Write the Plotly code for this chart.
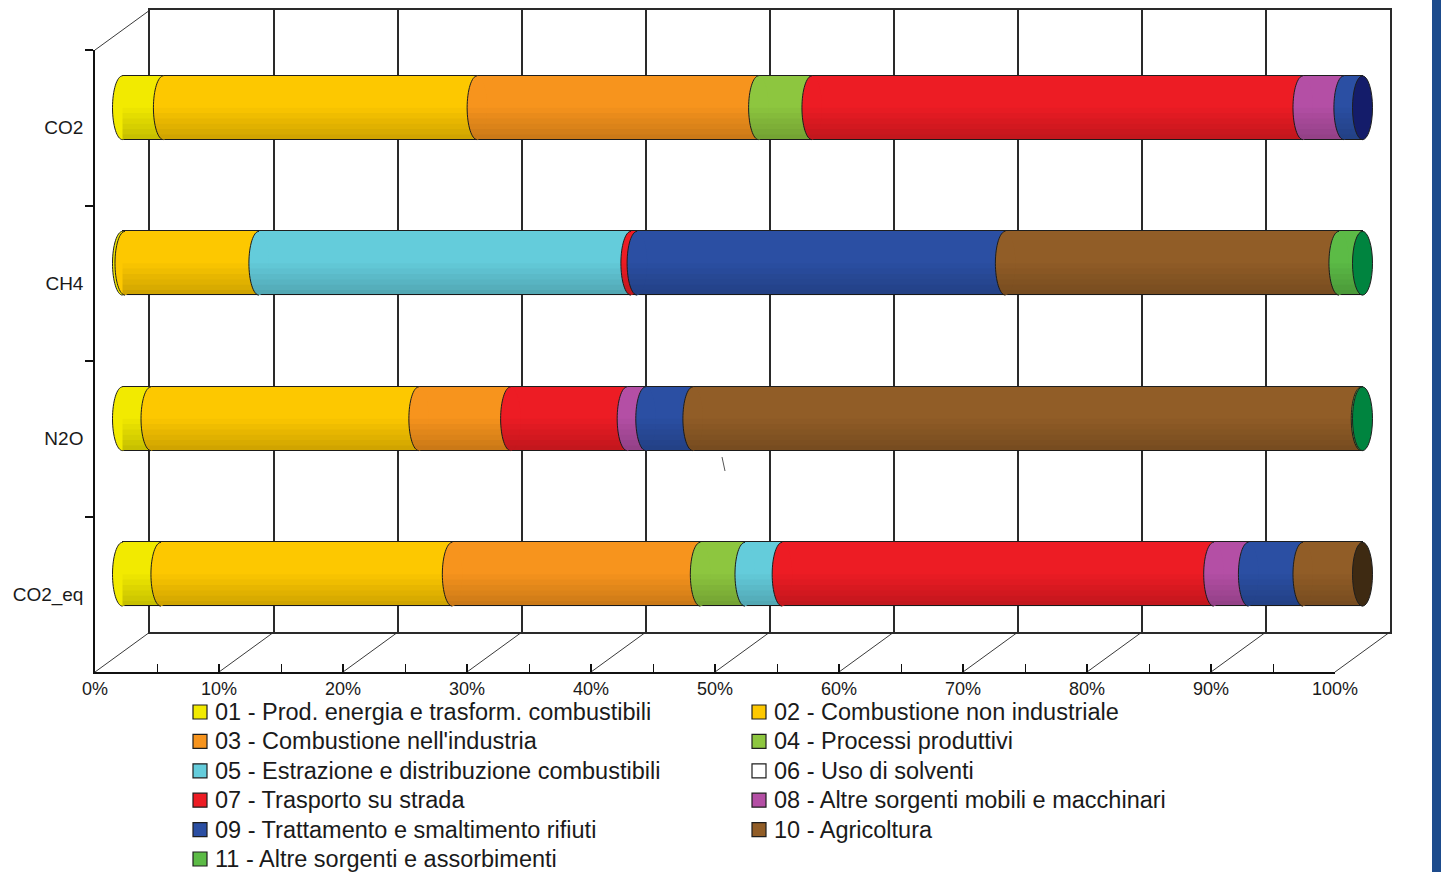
import plotly.graph_objects as go

W, H = 1441, 872

# Gases (rows, top to bottom)
gases = ["CO2", "CH4", "N2O", "CO2_eq"]

# Emission sources (legend order)
sources = [
    "01 - Prod. energia e trasform. combustibili",
    "02 - Combustione non industriale",
    "03 - Combustione nell'industria",
    "04 - Processi produttivi",
    "05 - Estrazione e distribuzione combustibili",
    "06 - Uso di solventi",
    "07 - Trasporto su strada",
    "08 - Altre sorgenti mobili e macchinari",
    "09 - Trattamento e smaltimento rifiuti",
    "10 - Agricoltura",
    "11 - Altre sorgenti e assorbimenti",
]

# Share of each source (%) for CO2, CH4, N2O, CO2_eq
s01 = [3.3, 0.2, 2.3, 3.1]
s02 = [25.3, 10.8, 21.6, 23.5]
s03 = [22.7, 0.0, 7.4, 20.0]
s04 = [4.3, 0.0, 0.0, 3.6]
s05 = [0.0, 30.0, 0.0, 3.0]
s06 = [0.0, 0.0, 0.0, 0.0]
s07 = [39.6, 0.5, 9.4, 34.8]
s08 = [3.3, 0.0, 1.5, 2.8]
s09 = [1.5, 29.7, 3.8, 4.4]
s10 = [0.0, 26.9, 53.9, 4.8]
s11 = [0.0, 1.9, 0.1, 0.0]
shares = [s01, s02, s03, s04, s05, s06, s07, s08, s09, s10, s11]

pct_ticks = list(range(0, 101, 10))

# ---- styling -------------------------------------------------------------
colors = ["#F2EA00", "#FDC800", "#F7941D", "#8DC63F", "#64CCDB", "#FFFFFF",
          "#ED1C24", "#B44FA5", "#2B4FA3", "#915D27", "#5CBB46"]
cap_colors = {8: "#141C6A", 9: "#3E2A12", 10: "#00843F"}
edge = "#1E1E1E"
txt = "#1A1A1A"
FONT = "Liberation Sans, Arial, sans-serif"

# 3D box geometry in page pixels: front plane and depth offset
FX0, FX1 = 95.0, 1335.0       # 0% and 100% on the front floor
FY_TOP, FY_BOT = 50.0, 672.0  # top and floor of the front plane
DX, DY = 55.0, 40.0           # depth offset to the back wall
ppu = (FX1 - FX0) / 100.0
band = (FY_BOT - FY_TOP) / len(gases)

# bars sit halfway in depth
bx0 = FX0 + DX / 2
by0 = FY_TOP - DY / 2 + band / 2
bar_w = 0.41
rx = 10.0 / ppu
ry = bar_w / 2

# legend block
LEG_X = [193.0, 752.0]
LEG_Y0, LEG_DY = 712.0, 29.4
SYM = 14.0

fig = go.Figure()

# empty trace so the back-wall subplot is drawn
fig.add_trace(go.Scatter(x=[None], y=[None], xaxis="x", yaxis="y",
                         showlegend=False, hoverinfo="skip"))
# invisible trace giving the front category axis its labels
fig.add_trace(go.Scatter(x=[None] * len(gases), y=gases, xaxis="x3", yaxis="y3",
                         mode="markers", showlegend=False, hoverinfo="skip"))

for name, vals, col in zip(sources, shares, colors):
    fig.add_trace(go.Bar(
        y=gases, x=[v if v else None for v in vals], name=name, orientation="h",
        xaxis="x2", yaxis="y2", width=bar_w, showlegend=False,
        marker=dict(color=col, line=dict(color=edge, width=1)),
        hovertemplate="%{y}: %{x:.1f}%<extra>" + name + "</extra>",
    ))


def left_arc(cx, cy):
    k = 0.5523
    return (f"M {cx},{cy - ry} C {cx - k * rx},{cy - ry} {cx - rx},{cy - k * ry} {cx - rx},{cy} "
            f"C {cx - rx},{cy + k * ry} {cx - k * rx},{cy + ry} {cx},{cy + ry}")


def px(xp):
    return xp / W


def py(yp):
    return 1 - yp / H


shapes = []
for gi in range(len(gases)):
    start = 0.0
    last = None
    for si, vals in enumerate(shares):
        v = vals[gi]
        if not v:
            continue
        shapes.append(dict(type="circle", xref="x2", yref="y2",
                           x0=start - rx, x1=start + rx, y0=gi - ry, y1=gi + ry,
                           fillcolor=colors[si], line=dict(width=0)))
        shapes.append(dict(type="path", xref="x2", yref="y2", path=left_arc(start, gi),
                           line=dict(color=edge, width=1)))
        start += v
        last = si
    # cylinder shading, darker toward the bottom
    nb = 6
    for j in range(nb):
        ya = gi + ry * (j / nb)
        yb = gi + ry * ((j + 1) / nb)
        shapes.append(dict(type="rect", xref="x2", yref="y2", x0=0, x1=start,
                           y0=ya, y1=yb, fillcolor="black",
                           opacity=0.025 + 0.03 * j, line=dict(width=0)))
    # end cap
    shapes.append(dict(type="circle", xref="x2", yref="y2",
                       x0=start - rx, x1=start + rx, y0=gi - ry, y1=gi + ry,
                       fillcolor=cap_colors.get(last, "#333333"),
                       line=dict(color=edge, width=1)))

# depth lines on the floor and at the top-left corner
line_style = dict(color="#3A3A3A", width=1)
for t in pct_ticks:
    fx = FX0 + t * ppu
    shapes.append(dict(type="line", xref="paper", yref="paper", layer="below",
                       x0=px(fx), y0=py(FY_BOT), x1=px(fx + DX), y1=py(FY_BOT - DY),
                       line=line_style))
shapes.append(dict(type="line", xref="paper", yref="paper", layer="below",
                   x0=px(FX0), y0=py(FY_TOP), x1=px(FX0 + DX), y1=py(FY_TOP - DY),
                   line=line_style))
# small stray stroke below the N2O bar
shapes.append(dict(type="line", xref="paper", yref="paper",
                   x0=px(722), y0=py(457), x1=px(725), y1=py(471),
                   line=dict(color="#555555", width=1)))
# white band behind the legend (trims the bottom of the % labels)
shapes.append(dict(type="rect", xref="paper", yref="paper",
                   x0=0, x1=px(1432), y0=0, y1=py(697),
                   fillcolor="white", line=dict(width=0)))
# blue page border on the right
shapes.append(dict(type="rect", xref="paper", yref="paper",
                   x0=px(1432), x1=1, y0=0, y1=1,
                   fillcolor="#1D4B8C", line=dict(width=0)))

# legend: two columns, filled row by row
annotations = []
for i, (name, col) in enumerate(zip(sources, colors)):
    r, c = divmod(i, 2)
    cy = LEG_Y0 + r * LEG_DY
    sx = LEG_X[c]
    shapes.append(dict(type="rect", xref="paper", yref="paper",
                       x0=px(sx), x1=px(sx + SYM), y0=py(cy + SYM / 2), y1=py(cy - SYM / 2),
                       fillcolor=col, line=dict(color=edge, width=1.2)))
    annotations.append(dict(xref="paper", yref="paper", x=px(sx + SYM + 6), y=py(cy),
                            xanchor="left", yanchor="middle", showarrow=False,
                            text=name, font=dict(size=23.5, family=FONT, color=txt)))

fig.update_layout(
    width=W, height=H, autosize=False,
    margin=dict(l=0, r=0, t=0, b=0, autoexpand=False),
    paper_bgcolor="white", plot_bgcolor="rgba(0,0,0,0)",
    barmode="stack", bargap=0, showlegend=False,
    font=dict(family=FONT, color=txt),
    shapes=shapes, annotations=annotations,
    # back wall with its grid
    xaxis=dict(domain=[px(FX0 + DX), px(FX1 + DX)], range=[0, 100], anchor="y",
               showgrid=True, gridcolor="#2A2A2A", gridwidth=1.5, dtick=10,
               showline=True, linecolor="#2A2A2A", linewidth=1.5, mirror=True,
               zeroline=False, showticklabels=False, ticks=""),
    yaxis=dict(domain=[py(FY_BOT - DY), py(FY_TOP - DY)], range=[0, 1], anchor="x",
               showgrid=False, showline=True, linecolor="#2A2A2A", linewidth=1.5,
               mirror=True, zeroline=False, showticklabels=False, ticks=""),
    # bar axes (mid depth)
    xaxis2=dict(domain=[0, 1], range=[-bx0 / ppu, (W - bx0) / ppu], anchor="y2",
                visible=False),
    yaxis2=dict(domain=[0, 1], type="category", categoryarray=gases,
                range=[(H - by0) / band, -by0 / band], anchor="x2", visible=False),
    # front axes with ticks and labels
    xaxis3=dict(domain=[px(FX0), px(FX1)], range=[0, 100], anchor="y3",
                tickvals=pct_ticks, ticktext=[f"{t}%" for t in pct_ticks],
                ticks="inside", ticklen=8, tickwidth=1.5, tickcolor="#111",
                minor=dict(dtick=5, ticks="inside", ticklen=8, tickwidth=1, tickcolor="#111"),
                showline=True, linecolor="#111", linewidth=1.5,
                showgrid=False, zeroline=False,
                tickfont=dict(size=18, family=FONT, color=txt)),
    yaxis3=dict(domain=[py(FY_BOT), py(FY_TOP)], type="category", categoryarray=gases,
                range=[len(gases) - 0.5, -0.5], anchor="x3",
                tickson="boundaries", ticks="outside", ticklen=8, tickwidth=1.5,
                tickcolor="#111", showline=True, linecolor="#111", linewidth=1.5,
                showgrid=False, zeroline=False, ticklabelstandoff=6,
                tickfont=dict(size=19, family=FONT, color=txt)),
)

fig.write_html("out.html")
